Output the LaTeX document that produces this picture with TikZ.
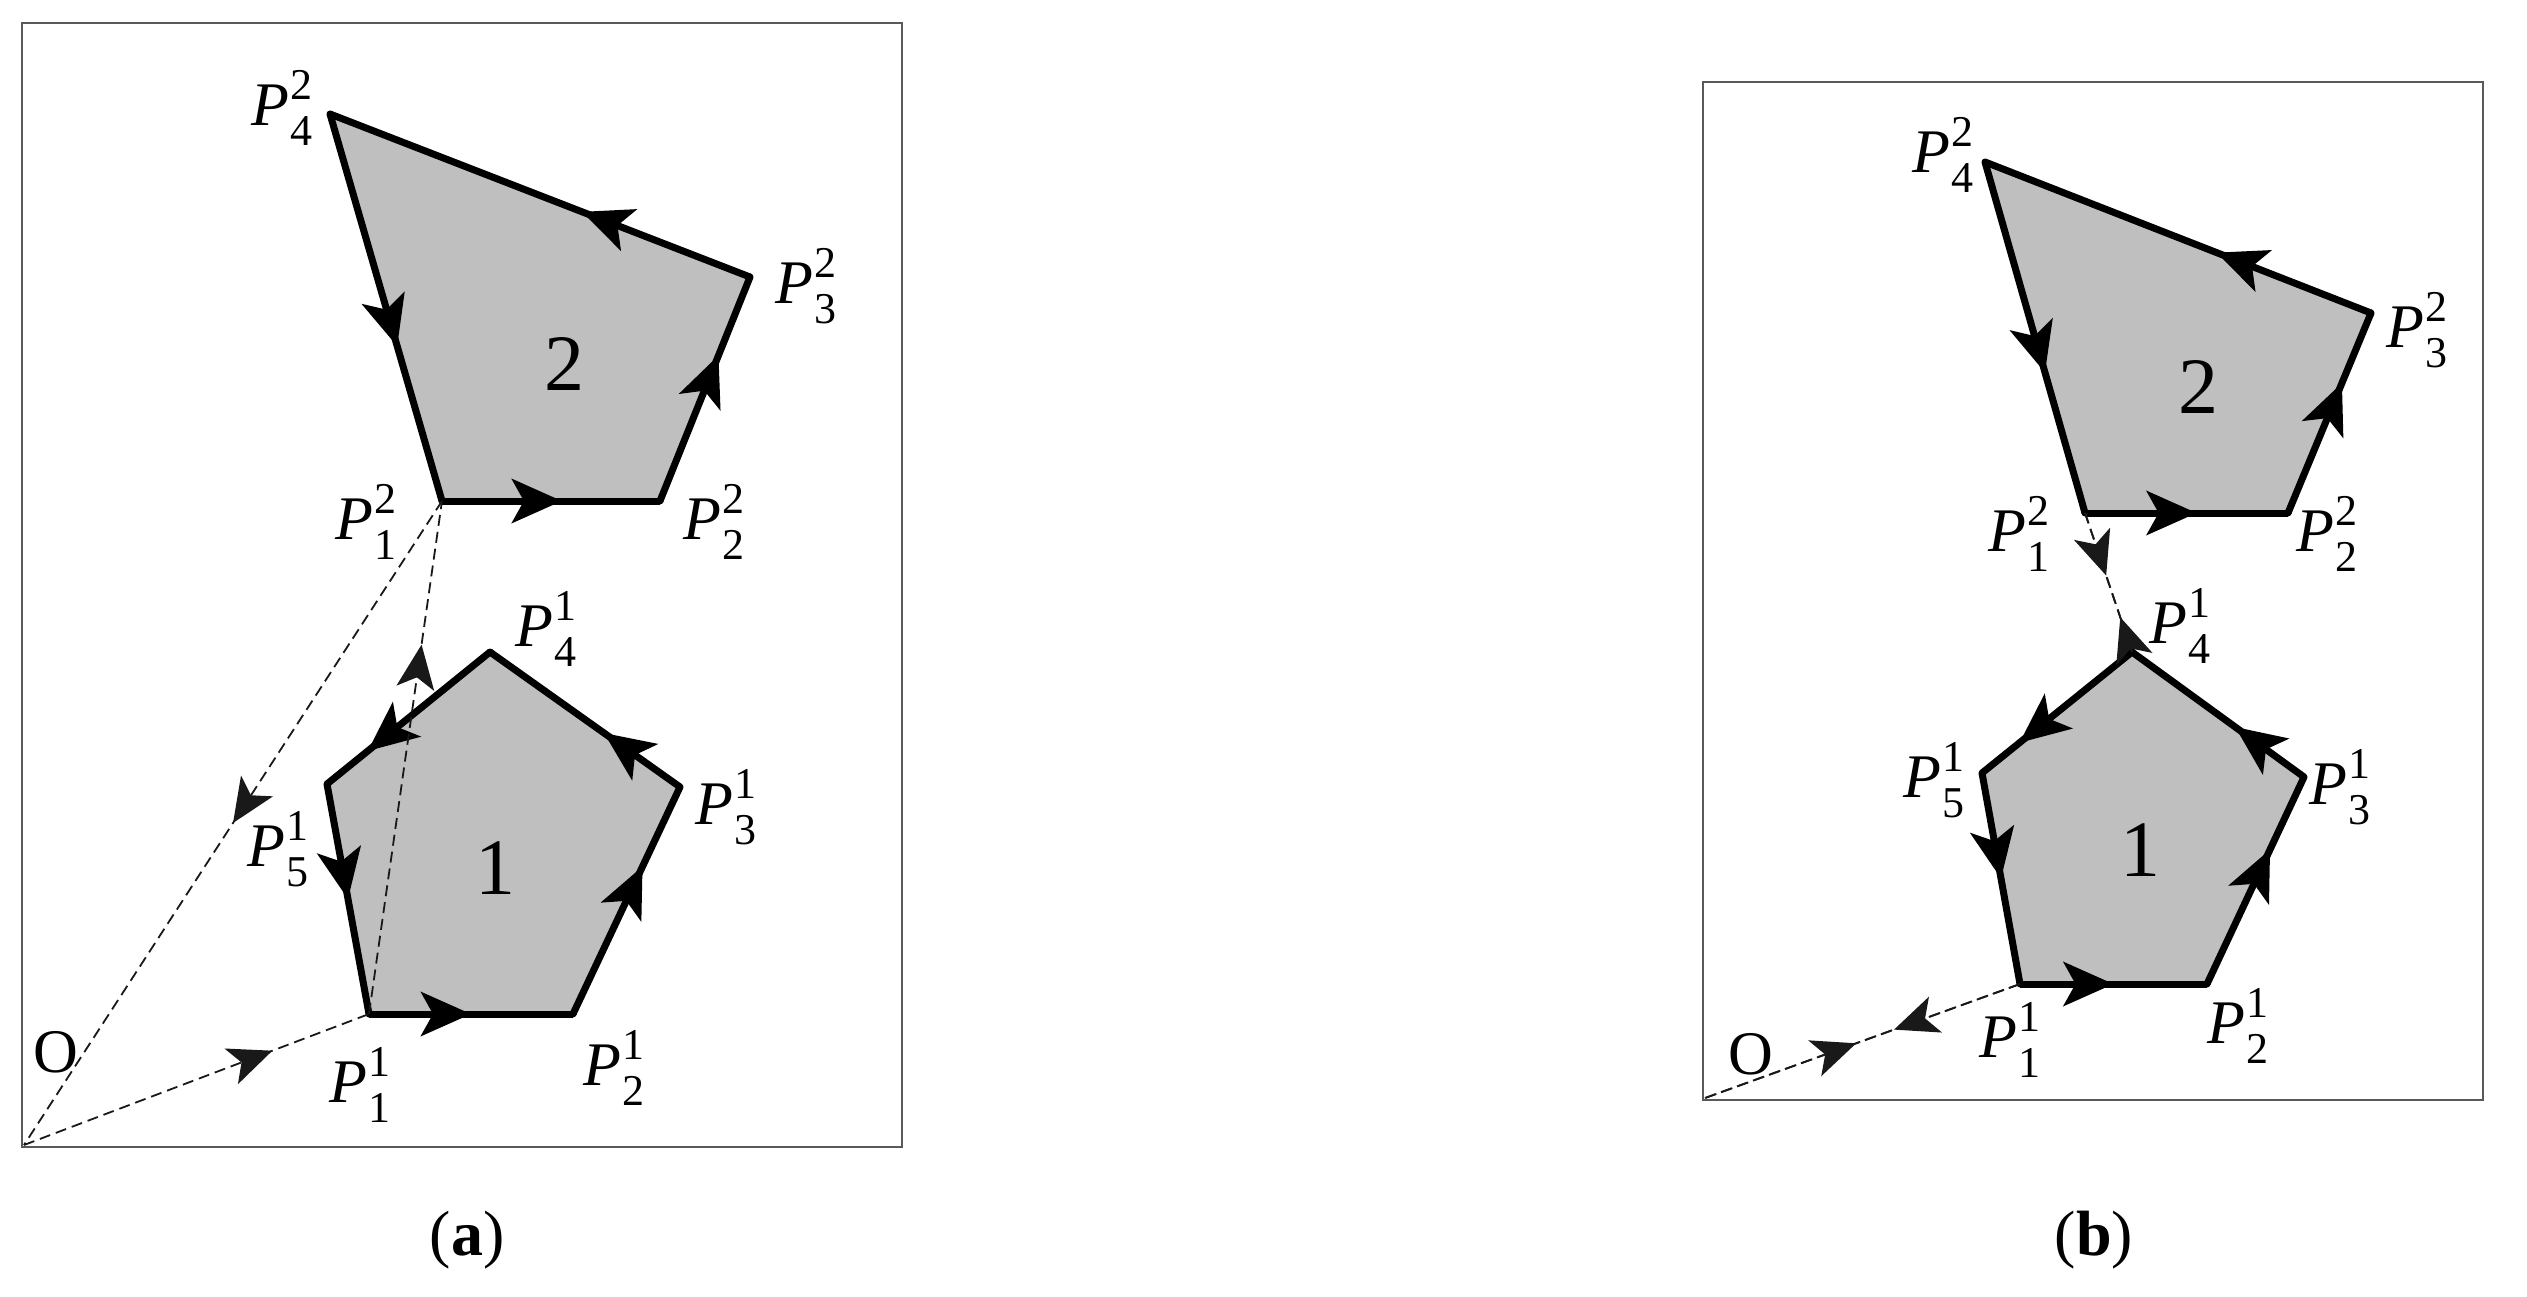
\documentclass[tikz,border=0pt]{standalone}
\usepackage{fontspec}
\setmainfont{Liberation Serif}
\usetikzlibrary{decorations.markings,arrows.meta}
\newcommand\PP[2]{\textit{P}\kern2pt\rlap{\raisebox{0.42em}{\fontsize{44}{44}\selectfont #2}}\raisebox{-0.32em}{\fontsize{44}{44}\selectfont #1}}
\begin{document}
\begin{tikzpicture}[x=1pt,y=-1pt,
  edge/.style={line width=7pt,line join=miter},
  arr/.style={postaction={decorate},decoration={markings,mark=at position #1 with {\arrow{Stealth[length=50pt,width=44pt,inset=12pt]}}}},
  darr/.style={postaction={decorate},decoration={markings,mark=at position #1 with {\arrow{Stealth[length=44pt,width=38pt,inset=11pt]}}}},
  dsh/.style={dashed,dash pattern=on 11pt off 6pt,line width=1.8pt,gray!20!black},
  poly/.style={fill=gray!50},
  lbl/.style={font=\fontsize{62}{64}\selectfont,inner sep=0pt},
  num/.style={font=\fontsize{80}{80}\selectfont,inner sep=0pt},
  frame/.style={draw=gray!70!black,line width=2pt}]
\useasboundingbox (0,0) rectangle (2527,1297);
% ---------- panel a ----------
\draw[frame] (22,23) rectangle (902,1147);
\coordinate (aO) at (24,1145);
\coordinate (aq1) at (442,501); \coordinate (aq2) at (660,501);
\coordinate (aq3) at (750,277); \coordinate (aq4) at (330,114);
\coordinate (ap1) at (369,1014); \coordinate (ap2) at (573,1014);
\coordinate (ap3) at (680,787); \coordinate (ap4) at (490,652);
\coordinate (ap5) at (327,784);
\fill[poly] (aq1)--(aq2)--(aq3)--(aq4)--cycle;
\fill[poly] (ap1)--(ap2)--(ap3)--(ap4)--(ap5)--cycle;
\draw[edge,arr=0.55] (aq1)--(aq2);
\draw[edge,arr=0.65] (aq2)--(aq3);
\draw[edge,arr=0.4] (aq3)--(aq4);
\draw[edge,arr=0.6] (aq4)--(aq1);
\draw[edge,arr=0.5] (ap1)--(ap2);
\draw[edge,arr=0.65] (ap2)--(ap3);
\draw[edge,arr=0.4] (ap3)--(ap4);
\draw[edge,arr=0.75] (ap4)--(ap5);
\draw[edge,arr=0.5] (ap5)--(ap1);
\fill (aq1) circle (3.5pt) (aq2) circle (3.5pt) (aq3) circle (3.5pt) (aq4) circle (3.5pt);
\fill (ap1) circle (3.5pt) (ap2) circle (3.5pt) (ap3) circle (3.5pt) (ap4) circle (3.5pt) (ap5) circle (3.5pt);
\draw[dsh,darr=0.72] (aO)--(ap1);
\draw[dsh,darr=0.5] (aq1)--(aO);
\draw[dsh,darr=0.72] (ap1)--(aq1);
\node[num] (a2) at (564,364) {2};
\node[num] (a1) at (495,868) {1};
\node[lbl] (la42) at (282,108) {\PP{4}{2}};
\node[lbl] (la32) at (806,286) {\PP{3}{2}};
\node[lbl] (la12) at (366,522) {\PP{1}{2}};
\node[lbl] (la22) at (714,522) {\PP{2}{2}};
\node[lbl] (la41) at (546,629) {\PP{4}{1}};
\node[lbl] (la31) at (726,807) {\PP{3}{1}};
\node[lbl] (la51) at (278,849) {\PP{5}{1}};
\node[lbl] (la11) at (360,1085) {\PP{1}{1}};
\node[lbl] (la21) at (614,1068) {\PP{2}{1}};
\node[lbl] (laO) at (56,1052) {O};
\node[font=\fontsize{64}{70}\selectfont] (capa) at (467,1240) {(\textbf{a})};
% ---------- panel b ----------
\draw[frame] (1703,82) rectangle (2483,1100);
\coordinate (bO) at (1705,1098);
\coordinate (bq1) at (2085,513); \coordinate (bq2) at (2288,513);
\coordinate (bq3) at (2371,313); \coordinate (bq4) at (1985,162);
\coordinate (bp1) at (2020,984); \coordinate (bp2) at (2207,984);
\coordinate (bp3) at (2304,777); \coordinate (bp4) at (2132,652);
\coordinate (bp5) at (1982,773);
\fill[poly] (bq1)--(bq2)--(bq3)--(bq4)--cycle;
\fill[poly] (bp1)--(bp2)--(bp3)--(bp4)--(bp5)--cycle;
\draw[edge,arr=0.55] (bq1)--(bq2);
\draw[edge,arr=0.65] (bq2)--(bq3);
\draw[edge,arr=0.4] (bq3)--(bq4);
\draw[edge,arr=0.6] (bq4)--(bq1);
\draw[edge,arr=0.5] (bp1)--(bp2);
\draw[edge,arr=0.65] (bp2)--(bp3);
\draw[edge,arr=0.4] (bp3)--(bp4);
\draw[edge,arr=0.75] (bp4)--(bp5);
\draw[edge,arr=0.5] (bp5)--(bp1);
\fill (bq1) circle (3.5pt) (bq2) circle (3.5pt) (bq3) circle (3.5pt) (bq4) circle (3.5pt);
\fill (bp1) circle (3.5pt) (bp2) circle (3.5pt) (bp3) circle (3.5pt) (bp4) circle (3.5pt) (bp5) circle (3.5pt);
\draw[dsh,darr=0.48] (bO)--(bp1);
\draw[dsh,darr=0.4] (bp1)--(bO);
\draw[dsh,darr=0.45] (bq1)--(bp4);
\draw[dsh,darr=0.25] (bp4)--(bq1);
\node[num] (b2) at (2198,387) {2};
\node[num] (b1) at (2140,850) {1};
\node[lbl] (lb42) at (1943,155) {\PP{4}{2}};
\node[lbl] (lb32) at (2417,330) {\PP{3}{2}};
\node[lbl] (lb12) at (2019,534) {\PP{1}{2}};
\node[lbl] (lb22) at (2327,534) {\PP{2}{2}};
\node[lbl] (lb41) at (2180,626) {\PP{4}{1}};
\node[lbl] (lb31) at (2340,787) {\PP{3}{1}};
\node[lbl] (lb51) at (1934,780) {\PP{5}{1}};
\node[lbl] (lb11) at (2010,1040) {\PP{1}{1}};
\node[lbl] (lb21) at (2238,1026) {\PP{2}{1}};
\node[lbl] (lbO) at (1751,1054) {O};
\node[font=\fontsize{64}{70}\selectfont] (capb) at (2094,1240) {(\textbf{b})};
\end{tikzpicture}
\end{document}
